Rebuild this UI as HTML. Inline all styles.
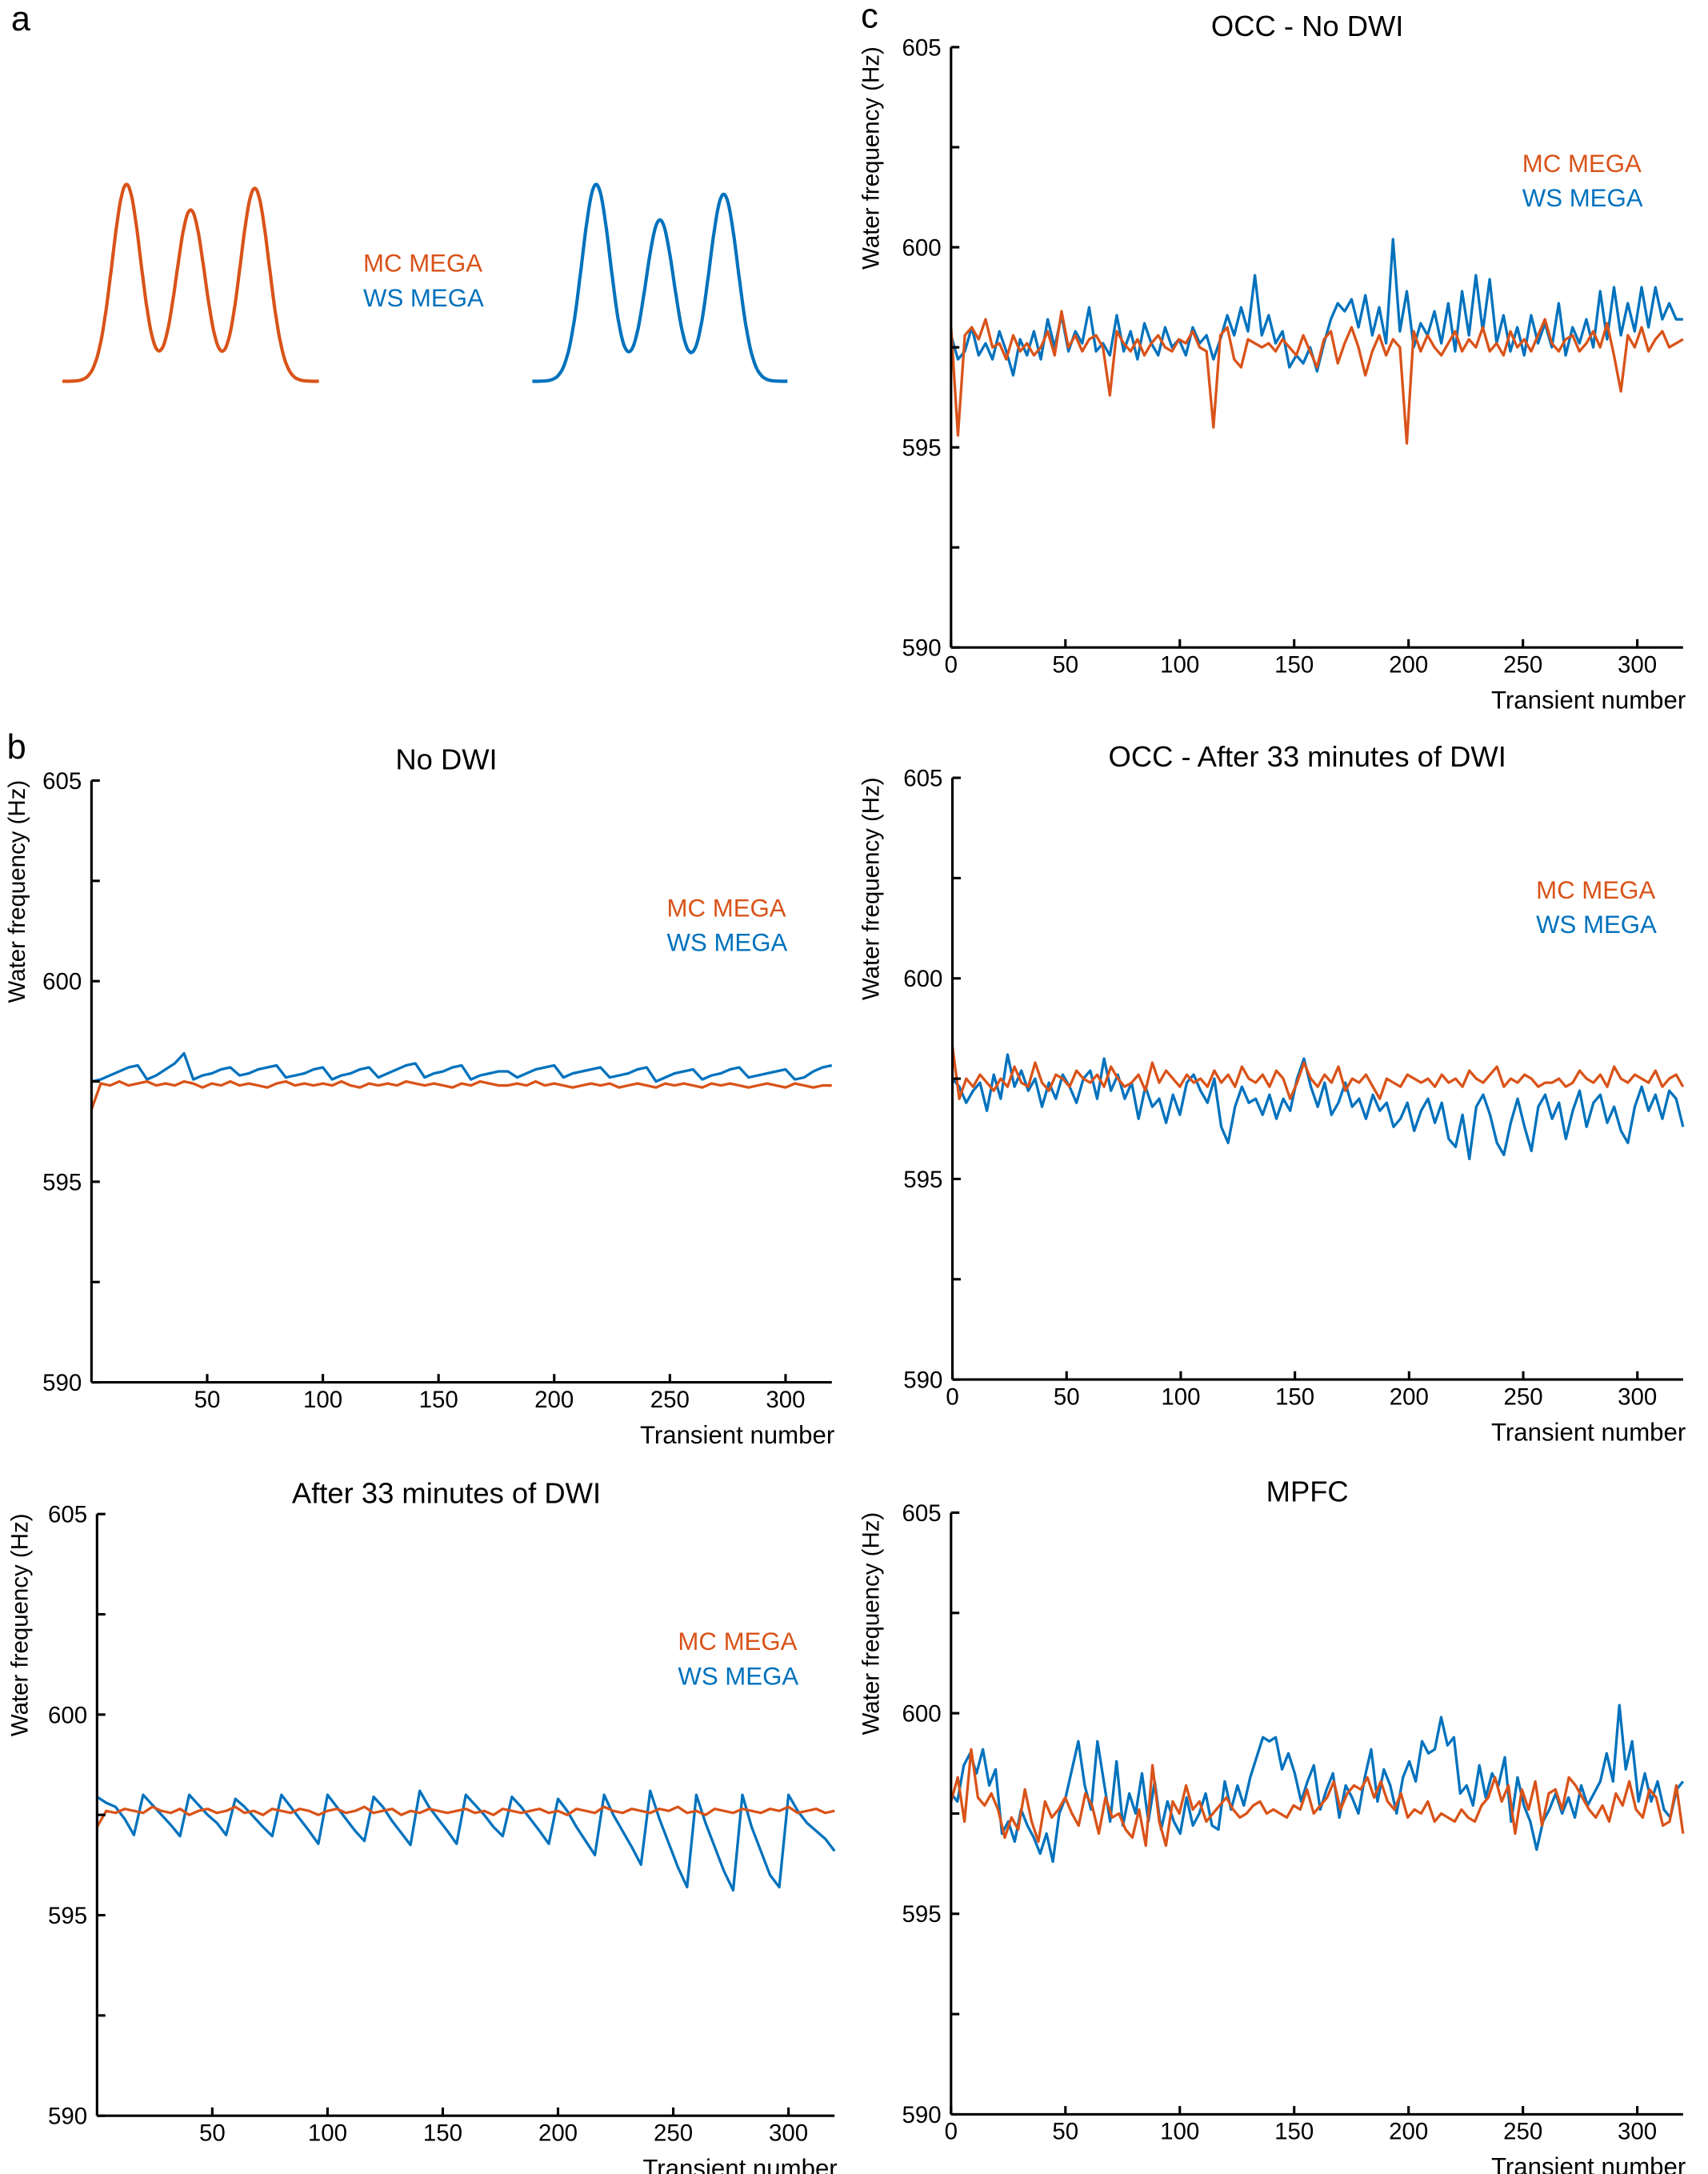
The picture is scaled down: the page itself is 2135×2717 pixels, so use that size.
<!DOCTYPE html>
<html><head><meta charset="utf-8"><style>
html,body{margin:0;padding:0;background:#fff;}
svg{display:block;}
text{font-family:"Liberation Sans",sans-serif;fill:#000;}
</style></head><body>
<svg id="fig" xmlns="http://www.w3.org/2000/svg" width="2135" height="2717" viewBox="0 0 1232 1568" preserveAspectRatio="none">
<rect width="1232" height="1568" fill="#fff"/>
<text x="8" y="22" font-size="25">a</text>
<text x="5" y="547" font-size="25">b</text>
<text x="621" y="20" font-size="25">c</text>
<g id="panelA"></g>
<text x="262" y="196" font-size="18" fill="#D95319" style="fill:#D95319">MC MEGA</text>
<text x="262" y="221" font-size="18" fill="#0072BD" style="fill:#0072BD">WS MEGA</text>
</svg>
<script>
const ORANGE = "#D95319", BLUE = "#0072BD";
// Panel a: peak data (relative positions and heights)
const specCenters = [0.25, 0.5, 0.75];
const mcHeights = [1.0, 0.87, 0.98];
const wsHeights = [1.0, 0.82, 0.95];
const yTicks = [605, 600, 595, 590];
const yMinor = [602.5, 597.5, 592.5];
const xTicksB = [50, 100, 150, 200, 250, 300];
const xTicksC = [0, 50, 100, 150, 200, 250, 300];

const b1Blue = [597.5,597.55,597.65,597.75,597.85,597.9,597.55,597.65,597.8,597.95,598.2,597.55,597.65,597.7,597.8,597.85,597.65,597.7,597.8,597.85,597.9,597.6,597.65,597.7,597.8,597.85,597.55,597.65,597.7,597.8,597.85,597.6,597.7,597.8,597.9,597.95,597.6,597.7,597.75,597.85,597.9,597.55,597.65,597.7,597.75,597.75,597.6,597.7,597.8,597.85,597.9,597.6,597.7,597.75,597.8,597.85,597.6,597.65,597.7,597.8,597.85,597.5,597.6,597.7,597.75,597.8,597.55,597.65,597.7,597.8,597.85,597.6,597.65,597.7,597.75,597.8,597.55,597.6,597.75,597.85,597.9];
const b1Orange = [596.8,597.45,597.4,597.5,597.4,597.45,597.5,597.4,597.45,597.4,597.5,597.45,597.35,597.45,597.4,597.5,597.4,597.45,597.4,597.35,597.45,597.5,597.4,597.45,597.4,597.45,597.4,597.5,597.4,597.35,597.45,597.4,597.45,597.4,597.5,597.45,597.4,597.45,597.4,597.35,597.45,597.4,597.5,597.45,597.4,597.4,597.45,597.4,597.5,597.4,597.45,597.4,597.35,597.4,597.45,597.4,597.45,597.35,597.4,597.45,597.4,597.35,597.45,597.4,597.45,597.4,597.35,597.45,597.4,597.45,597.4,597.35,597.4,597.45,597.4,597.35,597.45,597.4,597.35,597.4,597.4];
const b2Blue = [597.95,597.8,597.7,597.4,597.0, 598.0,597.75,597.5,597.25,596.97, 598.0,597.75,597.5,597.3,597.0, 597.9,597.7,597.45,597.2,596.97, 598.0,597.7,597.4,597.1,596.78, 598.0,597.7,597.4,597.1,596.85, 597.95,597.7,597.35,597.05,596.75, 598.1,597.7,597.4,597.1,596.78, 598.0,597.75,597.5,597.2,596.97, 597.95,597.7,597.4,597.1,596.78, 597.9,597.6,597.2,596.85,596.5, 598.0,597.5,597.1,596.7,596.26, 598.1,597.4,596.8,596.2,595.7, 598.0,597.3,596.7,596.1,595.62, 598.0,597.2,596.6,596.0,595.7, 598.0,597.6,597.3,597.1,596.9, 596.6];
const b2Orange = [597.2,597.6,597.55,597.65,597.6,597.55,597.7,597.6,597.55,597.65,597.5,597.6,597.65,597.55,597.6,597.7,597.55,597.6,597.5,597.65,597.6,597.55,597.65,597.6,597.5,597.6,597.65,597.55,597.6,597.7,597.55,597.6,597.65,597.5,597.6,597.55,597.65,597.6,597.55,597.6,597.65,597.55,597.6,597.5,597.65,597.6,597.55,597.6,597.65,597.55,597.6,597.5,597.65,597.6,597.55,597.7,597.6,597.55,597.65,597.6,597.55,597.65,597.6,597.7,597.55,597.6,597.5,597.65,597.6,597.55,597.65,597.6,597.55,597.65,597.6,597.7,597.55,597.6,597.65,597.55,597.6];
const c1Blue = [597.8,597.2,597.4,598.0,597.3,597.6,597.2,597.9,597.4,596.8,597.7,597.3,597.9,597.2,598.2,597.5,598.3,597.4,597.9,597.6,598.5,597.4,597.6,597.3,598.3,597.4,597.9,597.2,598.1,597.6,597.3,598.0,597.5,597.7,597.3,598.0,597.6,597.8,597.2,597.7,598.3,597.8,598.5,597.9,599.3,597.8,598.3,597.6,597.9,597.0,597.3,597.1,597.5,596.9,597.6,598.2,598.6,598.4,598.7,598.0,598.8,597.8,598.5,597.6,600.2,597.9,598.9,597.5,598.1,597.8,598.4,597.6,598.6,597.4,598.9,597.8,599.3,597.9,599.2,597.6,598.3,597.4,598.0,597.3,598.3,597.6,598.1,597.5,598.6,597.3,598.0,597.6,598.2,597.5,598.9,597.7,599.0,597.8,598.6,597.9,599.0,598.0,599.0,598.2,598.6,598.2,598.2];
const c1Orange = [598.0,595.3,597.8,598.0,597.7,598.2,597.5,597.6,597.2,597.8,597.4,597.6,597.3,597.5,597.9,597.3,598.4,597.5,597.8,597.4,597.7,597.8,597.5,596.3,597.9,597.6,597.4,597.7,597.3,597.6,597.8,597.5,597.4,597.7,597.6,597.9,597.5,597.4,595.5,597.8,598.0,597.2,597.0,597.7,597.6,597.5,597.6,597.4,597.7,597.5,597.3,597.8,597.4,597.0,597.7,597.9,597.1,597.6,598.0,597.5,596.8,597.4,597.8,597.3,597.7,597.5,595.1,597.9,597.4,597.8,597.5,597.3,597.6,597.9,597.4,597.7,597.5,598.0,597.4,597.6,597.3,597.9,597.5,597.7,597.4,597.8,598.2,597.6,597.4,597.7,597.8,597.4,597.6,597.9,597.5,598.1,597.3,596.4,597.8,597.5,598.0,597.4,597.7,597.9,597.5,597.6,597.7];
const c2Blue = [597.5,597.3,596.9,597.2,597.4,596.7,597.6,597.0,598.1,597.3,597.7,597.2,597.5,596.8,597.4,597.0,597.6,597.3,596.9,597.5,597.7,597.0,598.0,597.2,597.6,597.0,597.4,596.5,597.3,596.8,597.0,596.4,597.1,596.6,597.4,597.6,597.2,596.9,597.5,596.3,595.9,596.8,597.3,596.9,597.0,596.6,597.1,596.5,597.0,596.7,597.5,598.0,597.3,596.8,597.4,596.6,596.9,597.4,596.8,597.0,596.5,597.1,596.7,596.9,596.3,596.5,596.9,596.2,596.7,597.0,596.4,596.9,596.0,595.8,596.6,595.5,596.8,597.1,596.6,595.9,595.6,596.4,597.0,596.3,595.7,596.8,597.1,596.5,596.9,596.0,596.7,597.2,596.3,596.9,597.1,596.4,596.8,596.2,595.9,596.8,597.3,596.7,597.1,596.5,597.2,597.0,596.3];
const c2Orange = [598.3,597.0,597.5,597.3,597.6,597.4,597.2,597.5,597.3,597.8,597.4,597.3,597.9,597.4,597.2,597.6,597.5,597.3,597.7,597.5,597.4,597.6,597.3,597.8,597.5,597.3,597.4,597.6,597.2,597.9,597.4,597.7,597.5,597.3,597.6,597.4,597.5,597.3,597.7,597.4,597.6,597.3,597.8,597.5,597.4,597.6,597.3,597.7,597.5,597.0,597.4,597.9,597.5,597.3,597.6,597.4,597.8,597.2,597.5,597.4,597.6,597.3,597.0,597.5,597.4,597.3,597.6,597.5,597.4,597.5,597.3,597.6,597.4,597.5,597.3,597.7,597.5,597.4,597.6,597.8,597.3,597.5,597.4,597.6,597.5,597.3,597.4,597.4,597.5,597.3,597.4,597.7,597.5,597.4,597.6,597.3,597.8,597.5,597.4,597.6,597.5,597.4,597.7,597.3,597.5,597.6,597.3];
const c3Blue = [598.0,597.8,598.7,599.0,598.5,599.1,598.2,598.6,597.0,597.3,596.8,597.6,597.2,596.9,596.5,597.0,596.3,597.5,597.9,598.6,599.3,598.2,597.6,599.3,598.3,597.3,598.8,597.2,598.0,597.5,598.5,597.3,598.3,597.1,597.8,597.3,597.0,597.9,597.2,597.5,598.0,597.2,597.1,598.3,597.6,598.2,597.7,598.4,598.9,599.4,599.3,599.4,598.6,599.0,598.5,597.8,598.3,598.7,597.6,598.1,598.5,597.4,598.2,597.9,597.5,598.4,599.1,597.8,598.6,598.2,597.5,598.4,598.8,598.3,599.3,599.0,599.1,599.9,599.2,599.4,598.0,598.2,597.7,598.7,597.9,598.5,598.2,598.9,597.3,598.4,597.7,597.3,596.6,597.3,597.6,598.0,597.5,597.9,597.4,598.2,597.7,598.0,598.3,599.0,598.3,600.2,598.6,599.3,597.8,598.5,597.8,598.3,597.6,597.4,598.1,598.3];
const c3Orange = [597.8,598.4,597.3,599.1,597.9,597.7,598.0,597.6,596.9,597.4,597.1,598.1,597.3,596.8,597.8,597.4,597.6,597.9,597.5,597.2,598.0,597.7,597.0,597.9,597.4,597.5,597.1,596.9,597.6,596.7,598.7,597.3,596.7,597.8,597.5,598.2,597.6,597.8,597.3,597.5,597.7,597.9,597.6,597.4,597.5,597.7,597.8,597.5,597.6,597.5,597.4,597.7,597.6,598.1,597.5,597.7,597.9,598.3,597.6,598.0,598.2,598.1,598.4,597.9,598.3,597.8,597.6,598.0,597.4,597.6,597.5,597.8,597.3,597.5,597.4,597.3,597.6,597.4,597.3,597.7,597.9,598.4,597.8,598.2,597.0,598.1,597.6,598.3,597.2,598.0,598.1,597.6,598.4,598.2,597.9,597.6,597.4,597.7,597.3,598.0,597.7,598.3,597.6,597.4,598.1,597.9,597.2,597.3,598.2,597.0];

const NS = "http://www.w3.org/2000/svg";
const svg = document.getElementById("fig");
function mk(tag, attrs, parent) {
  const e = document.createElementNS(NS, tag);
  for (const k in attrs) e.setAttribute(k, attrs[k]);
  (parent || svg).appendChild(e);
  return e;
}

// Panel a spectra
function spectrum(heights, x0, x1, color, name) {
  const base = 275, amp = 142, sigma = 0.056;
  let d = "";
  for (let i = 0; i <= 300; i++) {
    const u = i / 300;
    let v = 0;
    for (let k = 0; k < specCenters.length; k++) {
      const z = (u - specCenters[k]) / sigma;
      v += heights[k] * Math.exp(-0.5 * z * z);
    }
    const px = x0 + u * (x1 - x0);
    const py = base - amp * v;
    d += (i ? "L" : "M") + px.toFixed(1) + " " + py.toFixed(1);
  }
  const p = mk("path", { d: d, fill: "none", stroke: color, "stroke-width": 2.4 }, document.getElementById("panelA"));
  
  
}
spectrum(mcHeights, 45, 230, ORANGE, "mc-mega-spectrum");
spectrum(wsHeights, 384, 568, BLUE, "ws-mega-spectrum");

const panels = [
  { id: "b1", ax: 66, top: 563, bot: 997, right: 600, title: "No DWI", tx: 322, xt: xTicksB, ylx: 18, legend: [481, 661], series: [b1Blue, b1Orange] },
  { id: "b2", ax: 70, top: 1092, bot: 1526, right: 602, title: "After 33 minutes of DWI", tx: 322, xt: xTicksB, ylx: 20, legend: [489, 1190], series: [b2Blue, b2Orange] },
  { id: "c1", ax: 686, top: 34, bot: 467, right: 1214, title: "OCC - No DWI", tx: 943, xt: xTicksC, ylx: 634, legend: [1098, 124], series: [c1Blue, c1Orange] },
  { id: "c2", ax: 687, top: 561, bot: 995, right: 1214, title: "OCC - After 33 minutes of DWI", tx: 943, xt: xTicksC, ylx: 634, legend: [1108, 648], series: [c2Blue, c2Orange] },
  { id: "c3", ax: 686, top: 1091, bot: 1525, right: 1214, title: "MPFC", tx: 943, xt: xTicksC, ylx: 634, legend: null, series: [c3Blue, c3Orange] }
];

panels.forEach(P => {
  const g = mk("g", {});
  
  
  const ys = v => P.bot - (v - 590) / 15 * (P.bot - P.top);
  const xs = t => P.ax + t / 320 * (P.right - P.ax);
  [[P.series[0], BLUE, "ws-mega-line"], [P.series[1], ORANGE, "mc-mega-line"]].forEach(s => {
    const arr = s[0], n = arr.length;
    let d = "";
    arr.forEach((v, i) => {
      const t = i * 320 / (n - 1);
      d += (i ? "L" : "M") + xs(t).toFixed(2) + " " + ys(v).toFixed(2);
    });
    const p = mk("path", { d: d, fill: "none", stroke: s[1], "stroke-width": 1.9, "stroke-linejoin": "round" }, g);
    
    
  });
  const ya = mk("line", { x1: P.ax, x2: P.ax, y1: P.top, y2: P.bot, stroke: "#000", "stroke-width": 1.8 }, g);
  
  
  const xa = mk("line", { x1: P.ax, x2: P.right, y1: P.bot, y2: P.bot, stroke: "#000", "stroke-width": 1.8 }, g);
  
  
  yTicks.concat(yMinor).forEach(v => {
    const tk = mk("line", { x1: P.ax, x2: P.ax + 6, y1: ys(v), y2: ys(v), stroke: "#000", "stroke-width": 1.8 }, g);
    
    
  });
  yTicks.forEach(v => {
    const t = mk("text", { x: P.ax - 7, y: ys(v) + 6, "font-size": 17, "text-anchor": "end" }, g);
    t.textContent = v;
    
    
  });
  P.xt.forEach(v => {
    const tk = mk("line", { x1: xs(v), x2: xs(v), y1: P.bot, y2: P.bot - 6, stroke: "#000", "stroke-width": 1.8 }, g);
    
    
    const t = mk("text", { x: xs(v), y: P.bot + 18, "font-size": 17, "text-anchor": "middle" }, g);
    t.textContent = v;
    
    
  });
  const xl = mk("text", { x: P.right + 2, y: P.bot + 44, "font-size": 18, "text-anchor": "end" }, g);
  xl.textContent = "Transient number";
  
  
  const cy = P.top + 80;
  const yl = mk("text", { x: P.ylx, y: cy, "font-size": 17, "text-anchor": "middle", transform: "rotate(-90 " + P.ylx + " " + cy + ")" }, g);
  yl.textContent = "Water frequency (Hz)";
  
  
  const ti = mk("text", { x: P.tx, y: P.top - 8, "font-size": 21, "text-anchor": "middle" }, g);
  ti.textContent = P.title;
  
  
  if (P.legend) {
    const l1 = mk("text", { x: P.legend[0], y: P.legend[1], "font-size": 18, style: "fill:" + ORANGE }, g);
    l1.textContent = "MC MEGA";
    
    
    const l2 = mk("text", { x: P.legend[0], y: P.legend[1] + 25, "font-size": 18, style: "fill:" + BLUE }, g);
    l2.textContent = "WS MEGA";
    
    
  }
});
</script>
</body></html>
